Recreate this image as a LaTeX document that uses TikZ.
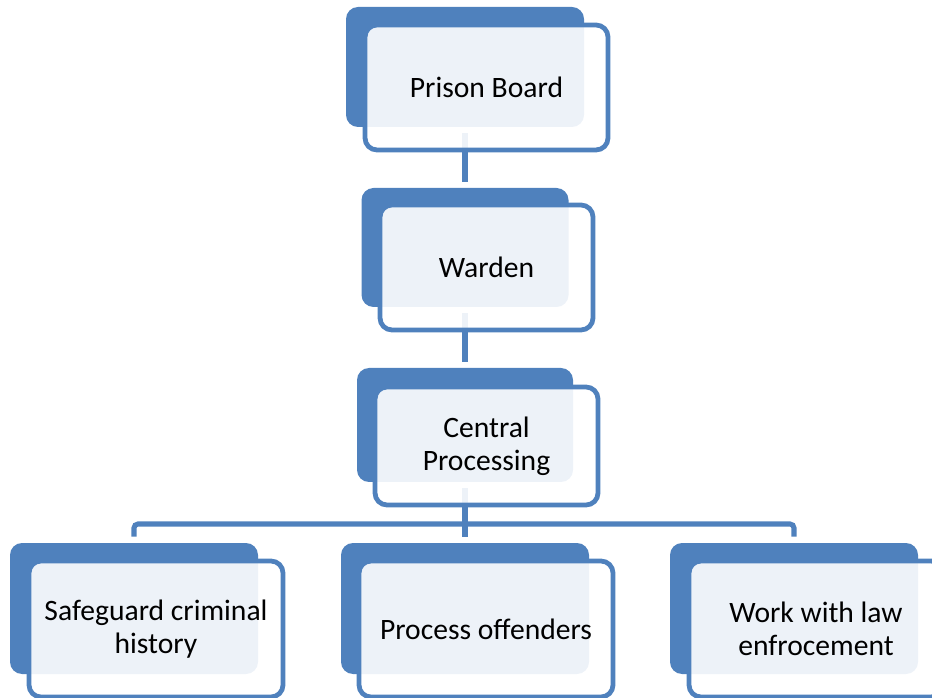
\documentclass[tikz,border=0pt]{standalone}
\usepackage{fontspec}
\setmainfont{Carlito}
\usepackage{tikz}
\definecolor{orgblue}{HTML}{4F81BD}

\begin{document}
\begin{tikzpicture}[
  x=0.75pt,y=-0.75pt,
  every node/.style={font=\fontsize{22.2}{24.75}\selectfont},
  back/.style={fill=orgblue,rounded corners=9pt,inner sep=0pt},
  front/.style={draw=orgblue,line width=3.6pt,fill=white,fill opacity=0.9,text opacity=1,
    rounded corners=9pt,align=center,inner sep=0pt},
  link/.style={draw=orgblue,line width=3.8pt,shorten <=4.5pt,shorten >=4.5pt}
]
  \useasboundingbox (0,0) rectangle (932,698);

  \node[back,minimum width=178.5pt,minimum height=90pt] (boardB) at (465,67) {};
  \node[back,minimum width=155.25pt,minimum height=89.25pt] (wardenB) at (465,247.5) {};
  \node[back,minimum width=162pt,minimum height=85.5pt] (centralB) at (465,425) {};
  \node[back,minimum width=186pt,minimum height=98.25pt] (safeB) at (134,608.5) {};
  \node[back,minimum width=186pt,minimum height=98.25pt] (procB) at (465,608.5) {};
  \node[back,minimum width=186pt,minimum height=98.25pt] (lawB) at (794,608.5) {};

  \coordinate (bus) at (465,524);
  \draw[link] (boardB.south) -- (wardenB.north);
  \draw[link] (wardenB.south) -- (centralB.north);
  \draw[link] (centralB.south) -- (procB.north);
  \draw[link,shorten <=0pt,rounded corners=3pt] (bus) -| (safeB.north);
  \draw[link,shorten <=0pt,rounded corners=3pt] (bus) -| (lawB.north);

  \node[front,minimum width=182.25pt,minimum height=93.75pt] (board) at (486.5,87.5) {Prison Board};
  \node[front,minimum width=159.75pt,minimum height=93.75pt] (warden) at (486.5,267.5) {Warden};
  \node[front,minimum width=167.25pt,minimum height=88.5pt] (central) at (486.5,446) {Central\\Processing};
  \node[front,minimum width=190.5pt,minimum height=102pt] (safe) at (156,629) {Safeguard criminal\\history};
  \node[front,minimum width=190.5pt,minimum height=102pt] (proc) at (486,629) {Process offenders};
  \node[front,minimum width=190.5pt,minimum height=102pt] (law) at (816,629) {Work with law\\enfrocement};
\end{tikzpicture}
\end{document}
